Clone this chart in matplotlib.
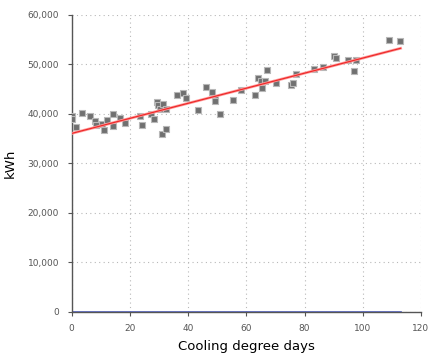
import matplotlib.pyplot as plt
import numpy as np
from matplotlib.ticker import FuncFormatter

# cooling degree days vs. kWh
cdd = [0.3, 0.3, 1.4, 3.4, 6.4, 8.0, 8.3, 10.3, 11.2, 12.3, 14.3, 14.3, 16.5, 18.2,
       23.4, 24.3, 27.1, 28.3, 29.4, 29.8, 30.2, 31.3, 32.4, 31.2, 32.4, 36.2, 38.2,
       39.2, 43.3, 46.2, 48.1, 49.2, 49.2, 51.0, 55.3, 58.1, 63.1, 64.0, 65.2, 65.3,
       66.3, 67.0, 70.2, 75.2, 76.0, 77.2, 83.2, 86.2, 90.0, 90.9, 95.0, 97.0, 97.8,
       109.0, 112.8]
kwh = [39500, 38900, 37300, 40100, 39500, 38600, 37800, 38000, 36600, 38800, 40000,
       37600, 39200, 38100, 39500, 37800, 40000, 39000, 42300, 41700, 40900, 42000,
       41000, 35800, 36800, 43700, 44200, 43200, 40700, 45400, 44400, 43200, 42500,
       39900, 42700, 44700, 43700, 47200, 46600, 45200, 46600, 48900, 46200, 45700,
       46200, 48000, 49000, 49500, 51600, 51300, 50900, 48600, 50900, 54800, 54600]

# trend line end points
trend_x = [0, 113]
trend_y = [36000, 53200]

# flat blue series along zero
base_x = [0, 113]
base_y = [0, 0]

fig = plt.figure(figsize=(4.34, 3.57), dpi=100)
ax = fig.add_axes([0.165, 0.127, 0.805, 0.832])

ax.grid(True, color="#b8b8b8", linestyle=(0, (1, 3)), linewidth=0.8)
ax.set_axisbelow(True)

ax.plot(base_x, base_y, color="#5060c8", linewidth=1.2, zorder=2)
ax.scatter(cdd, kwh, marker="s", s=24, color="#707070", edgecolors="#b8b8b8",
           linewidths=0.8, zorder=3)
ax.plot(trend_x, trend_y, color="#ffa0a0", linewidth=2.0, zorder=4)
ax.plot(trend_x, trend_y, color="#ee2a2a", linewidth=0.9, zorder=5)

ax.set_xlim(0, 120)
ax.set_ylim(0, 60000)
ax.set_xticks(np.arange(0, 121, 20))
ax.set_yticks(np.arange(0, 60001, 10000))
ax.yaxis.set_major_formatter(FuncFormatter(lambda v, p: f"{int(v):,}"))

for s in ["top", "right"]:
    ax.spines[s].set_visible(False)
for s in ["left", "bottom"]:
    ax.spines[s].set_color("#555555")
    ax.spines[s].set_linewidth(1.0)

ax.tick_params(axis="both", length=3, color="#555555", labelsize=6.5,
               labelcolor="#555555", pad=6)

ax.set_xlabel("Cooling degree days", fontsize=9.5, labelpad=5)
ax.set_ylabel("kWh", fontsize=9.5, labelpad=8)

fig.savefig("out.png", dpi=100)
